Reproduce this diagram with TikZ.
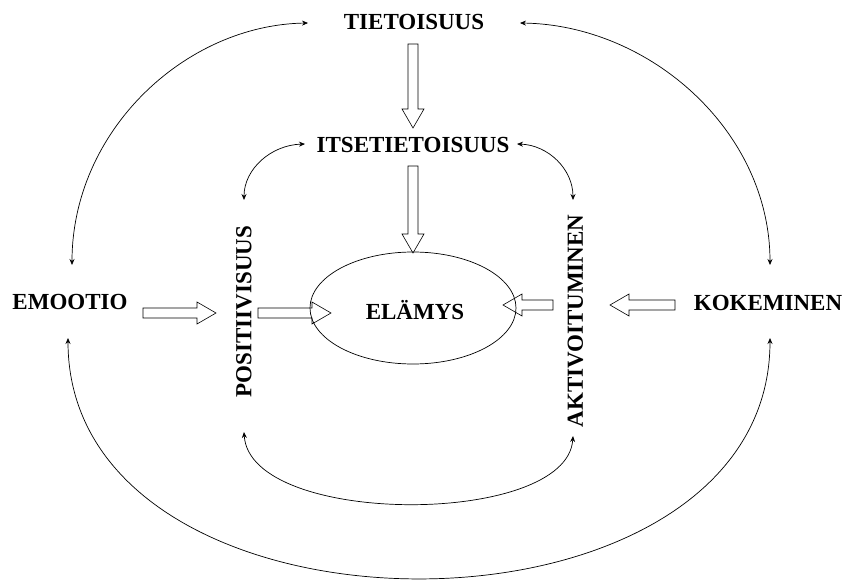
\documentclass[tikz,border=0pt]{standalone}
\usepackage{fontspec}
\setmainfont{Liberation Serif}
\usetikzlibrary{calc,arrows.meta}
\tikzset{
  lbl/.style={font=\fontsize{23}{27}\selectfont\bfseries, inner sep=0pt},
  thin arrow/.style={line width=0.7pt, {Stealth[length=6pt,width=5pt]}-{Stealth[length=6pt,width=5pt]}},
  hollow/.style={draw, line width=0.6pt, line join=miter}
}
\newcommand\hollowarrow[2]{%
  \coordinate (hc) at ($(#2)!19pt!(#1)$);
  \draw[hollow] ($(#1)!5pt!90:(#2)$) -- ($(hc)!5pt!-90:(#1)$) -- ($(hc)!11pt!-90:(#1)$)
    -- (#2) -- ($(hc)!11pt!90:(#1)$) -- ($(hc)!5pt!90:(#1)$) -- ($(#1)!5pt!-90:(#2)$) -- cycle;}
\begin{document}
\begin{tikzpicture}[x=1pt,y=-1pt]
\useasboundingbox (0,0) rectangle (847,583);
% labels
\node[lbl] (tiet) at (414,22.5) {TIETOISUUS};
\node[lbl] (itse) at (413,144.5) {ITSETIETOISUUS};
\node[lbl] (emo) at (70,302) {EMOOTIO};
\node[lbl] (koke) at (768,302.5) {KOKEMINEN};
\node[lbl, anchor=base] (elam) at (415,319) {ELÄMYS};
\node[lbl, rotate=90] (posi) at (244,311.5) {POSITIIVISUUS};
\node[lbl, rotate=90] (akti) at (575.5,321) {AKTIVOITUMINEN};
\draw[line width=0.7pt] (413,308) ellipse [x radius=103, y radius=56];
% thin arrow endpoints
\coordinate (t-l) at (308,23);
\coordinate (t-r) at (520,23);
\coordinate (e-t) at (72,265);
\coordinate (k-t) at (770,265);
\coordinate (e-b) at (68,338);
\coordinate (k-b) at (770,338);
\coordinate (i-l) at (305,144);
\coordinate (i-r) at (517,144);
\coordinate (p-t) at (244,200);
\coordinate (a-t) at (573,200);
\coordinate (p-b) at (244,432);
\coordinate (a-b) at (573,436);
\draw[thin arrow] (t-l) .. controls (185,25) and (72,131) .. (e-t);
\draw[thin arrow] (t-r) .. controls (650,25) and (770,131) .. (k-t);
\draw[thin arrow] (e-b) .. controls (68,658) and (770,658) .. (k-b);
\draw[thin arrow] (i-l) .. controls (271,145) and (244,169) .. (p-t);
\draw[thin arrow] (i-r) .. controls (548,145) and (573,169) .. (a-t);
\draw[thin arrow] (p-b) .. controls (250,527) and (567,527) .. (a-b);
% hollow arrows
\coordinate (h1a) at (413,44);  \coordinate (h1b) at (413,128);
\coordinate (h2a) at (413,166); \coordinate (h2b) at (413,253);
\coordinate (h3a) at (143,313); \coordinate (h3b) at (216,313);
\coordinate (h4a) at (258,313); \coordinate (h4b) at (331,313);
\coordinate (h5a) at (553,305); \coordinate (h5b) at (503,305);
\coordinate (h6a) at (675,305); \coordinate (h6b) at (610,305);
\hollowarrow{h1a}{h1b}
\hollowarrow{h2a}{h2b}
\hollowarrow{h3a}{h3b}
\hollowarrow{h4a}{h4b}
\hollowarrow{h5a}{h5b}
\hollowarrow{h6a}{h6b}
\end{tikzpicture}
\end{document}
